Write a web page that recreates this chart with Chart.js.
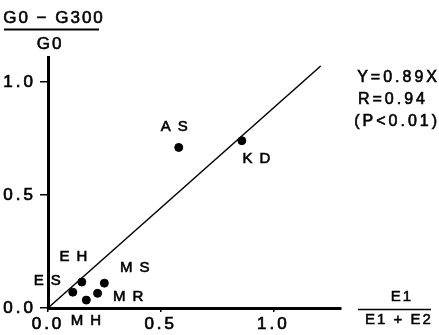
<!DOCTYPE html>
<html>
<head>
<meta charset="utf-8">
<script src="https://cdn.jsdelivr.net/npm/chart.js@4.4.1/dist/chart.umd.min.js"></script>
<style>
  html, body { margin: 0; padding: 0; background: #fff; }
  #wrap { width: 439px; height: 335px; }
</style>
</head>
<body>
<div id="wrap"><canvas id="c"></canvas></div>
<script>
// subjects and their values
const subjects = ['AS', 'KD', 'ES', 'EH', 'MH', 'MR', 'MS'];
const ratioE = [0.58, 0.86, 0.11, 0.15, 0.17, 0.22, 0.25];     // E1/(E1+E2)
const ratioG = [0.71, 0.74, 0.07, 0.115, 0.035, 0.065, 0.11];  // (G0-G300)/G0

// regression line end points
const fitX = [0, 1.21];
const fitY = [0, 1.07];

const xTicks = [0, 0.5, 1.0];
const yTicks = [0, 0.5, 1.0];

const statsText = ['Y=0.89X', 'R=0.94', '(P<0.01)'];

// label offset from the dot, px (styling only)
const labelShift = {
  AS: [-4, -21], KD: [15, 18], ES: [-25, -11], EH: [-8, -25],
  MH: [0, 21], MR: [31, 4], MS: [31, -15]
};

const font = '"Liberation Sans", Arial, sans-serif';

// fill + thin stroke, gives the heavier scanned look
function inkText(ctx, str, x, y) {
  ctx.fillText(str, x, y);
  ctx.strokeText(str, x, y);
}

const textPlugin = {
  id: 'texts',
  beforeDraw(chart) {
    chart.ctx.letterSpacing = '3px';
  },
  afterDraw(chart) {
    const ctx = chart.ctx;
    const xs = chart.scales.x, ys = chart.scales.y;
    ctx.save();
    ctx.fillStyle = '#000';
    ctx.strokeStyle = '#000';
    ctx.lineWidth = 0.6;
    ctx.textAlign = 'center';
    ctx.textBaseline = 'middle';

    // point labels
    ctx.font = '15px ' + font;
    ctx.letterSpacing = '7px';
    subjects.forEach((s, i) => {
      const px = xs.getPixelForValue(ratioE[i]);
      const py = ys.getPixelForValue(ratioG[i]);
      const d = labelShift[s];
      inkText(ctx, s, px + d[0] + 3, py + d[1]);
    });

    // stats
    ctx.font = '16px ' + font;
    ctx.letterSpacing = '3px';
    ctx.textAlign = 'right';
    inkText(ctx, statsText[0], 440, 78);
    inkText(ctx, statsText[1], 428, 100);
    inkText(ctx, statsText[2], 440, 122);

    // y title fraction
    ctx.textAlign = 'center';
    ctx.font = '17px ' + font;
    ctx.letterSpacing = '2px';
    inkText(ctx, 'G0 \u2212 G300', 54, 18);
    inkText(ctx, 'G0', 50, 44);
    ctx.lineWidth = 2;
    ctx.beginPath();
    ctx.moveTo(4, 29.5);
    ctx.lineTo(99, 29.5);
    ctx.stroke();

    // x title fraction
    ctx.lineWidth = 0.5;
    ctx.font = '15px ' + font;
    ctx.letterSpacing = '2px';
    inkText(ctx, 'E1', 402, 297);
    inkText(ctx, 'E1 + E2', 399, 320);
    ctx.lineWidth = 1.5;
    ctx.beginPath();
    ctx.moveTo(358, 309.5);
    ctx.lineTo(431, 309.5);
    ctx.stroke();
    ctx.restore();
  }
};

new Chart(document.getElementById('c'), {
  type: 'scatter',
  data: {
    datasets: [
      {
        data: subjects.map((s, i) => ({ x: ratioE[i], y: ratioG[i] })),
        backgroundColor: '#000',
        borderColor: '#000',
        pointRadius: 4,
        pointHoverRadius: 4
      },
      {
        type: 'line',
        data: fitX.map((x, i) => ({ x: x, y: fitY[i] })),
        borderColor: '#000',
        borderWidth: 1.5,
        pointRadius: 0,
        fill: false,
        clip: false
      }
    ]
  },
  options: {
    responsive: true,
    maintainAspectRatio: false,
    animation: false,
    layout: { padding: { top: 57, right: 98, left: 0, bottom: 0 } },
    plugins: { legend: { display: false }, tooltip: { enabled: false } },
    scales: {
      x: {
        type: 'linear',
        min: 0,
        max: 1.3,
        afterBuildTicks: s => { s.ticks = xTicks.map(v => ({ value: v })); },
        afterFit: s => { s.height = 27; },
        border: { color: '#000', width: 3 },
        grid: { drawOnChartArea: false, drawTicks: true, tickLength: 4, color: '#000', lineWidth: 1.5 },
        ticks: {
          color: '#000',
          textStrokeColor: '#000',
          textStrokeWidth: 0.7,
          padding: 2,
          maxRotation: 0,
          font: { family: font, size: 17 },
          callback: v => v.toFixed(1)
        }
      },
      y: {
        type: 'linear',
        min: 0,
        max: 1.11,
        afterBuildTicks: s => { s.ticks = yTicks.map(v => ({ value: v })); },
        afterFit: s => { s.width = 48; },
        border: { color: '#000', width: 3 },
        grid: { drawOnChartArea: false, drawTicks: true, tickLength: 8, color: '#000', lineWidth: 1.5 },
        ticks: {
          color: '#000',
          textStrokeColor: '#000',
          textStrokeWidth: 0.7,
          padding: 4,
          font: { family: font, size: 17 },
          callback: v => v.toFixed(1)
        }
      }
    }
  },
  plugins: [textPlugin]
});
</script>
</body>
</html>
